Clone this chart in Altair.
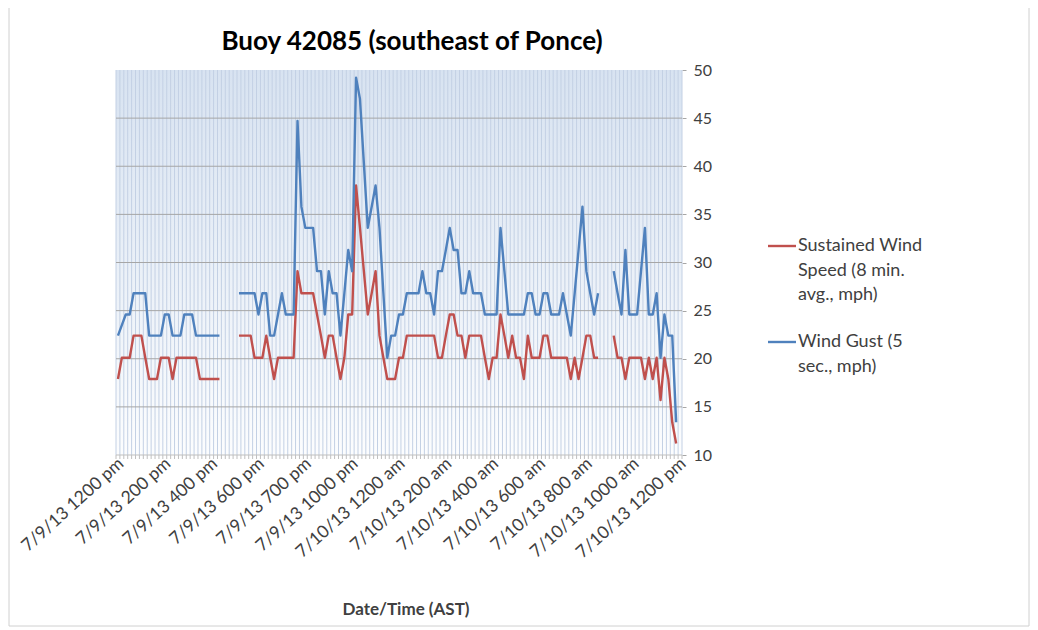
import json
import altair as alt
import pandas as pd

# ---------------- data ----------------
tick_labels = ["7/9/13 1200 pm", "7/9/13 200 pm", "7/9/13 400 pm", "7/9/13 600 pm",
               "7/9/13 700 pm", "7/9/13 1000 pm", "7/10/13 1200 am", "7/10/13 200 am",
               "7/10/13 400 am", "7/10/13 600 am", "7/10/13 800 am", "7/10/13 1000 am",
               "7/10/13 1200 pm"]
label_step = 12
n_categories = 145

seg1_start = 0
gust_seg1 = [22.4, 23.5, 24.6, 24.6, 26.8, 26.8, 26.8, 26.8, 22.4, 22.4, 22.4, 22.4, 24.6, 24.6,
             22.4, 22.4, 22.4, 24.6, 24.6, 24.6, 22.4, 22.4, 22.4, 22.4, 22.4, 22.4, 22.4]
sust_seg1 = [17.9, 20.1, 20.1, 20.1, 22.4, 22.4, 22.4, 20.1, 17.9, 17.9, 17.9, 20.1, 20.1, 20.1,
             17.9, 20.1, 20.1, 20.1, 20.1, 20.1, 20.1, 17.9, 17.9, 17.9, 17.9, 17.9, 17.9]

seg2_start = 31
gust_seg2 = [26.8, 26.8, 26.8, 26.8, 26.8, 24.6, 26.8, 26.8, 22.4, 22.4, 24.6, 26.8, 24.6, 24.6,
             24.6, 44.7, 35.8, 33.6, 33.6, 33.6, 29.1, 29.1, 24.6, 29.1, 26.8, 26.8, 22.4, 26.8,
             31.3, 29.1, 49.2, 47.0, 40.3, 33.6, 35.8, 38.0, 33.6, 26.8, 20.1, 22.4, 22.4, 24.6,
             24.6, 26.8, 26.8, 26.8, 26.8, 29.1, 26.8, 26.8, 24.6, 29.1, 29.1, 31.3, 33.6, 31.3,
             31.3, 26.8, 26.8, 29.1, 26.8, 26.8, 26.8, 24.6, 24.6, 24.6, 24.6, 33.6, 29.1, 24.6,
             24.6, 24.6, 24.6, 24.6, 26.8, 26.8, 24.6, 24.6, 26.8, 26.8, 24.6, 24.6, 24.6, 26.8,
             24.6, 22.4, 26.8, 31.3, 35.8, 29.1, 26.8, 24.6, 26.8]
sust_seg2 = [22.4, 22.4, 22.4, 22.4, 20.1, 20.1, 20.1, 22.4, 20.1, 17.9, 20.1, 20.1, 20.1, 20.1,
             20.1, 29.1, 26.8, 26.8, 26.8, 26.8, 24.6, 22.4, 20.1, 22.4, 22.4, 20.1, 17.9, 20.1,
             24.6, 24.6, 38.0, 33.6, 29.1, 24.6, 26.8, 29.1, 22.4, 20.1, 17.9, 17.9, 17.9, 20.1,
             20.1, 22.4, 22.4, 22.4, 22.4, 22.4, 22.4, 22.4, 22.4, 20.1, 20.1, 22.4, 24.6, 24.6,
             22.4, 22.4, 20.1, 22.4, 22.4, 22.4, 22.4, 20.1, 17.9, 20.1, 20.1, 24.6, 22.4, 20.1,
             22.4, 20.1, 20.1, 17.9, 22.4, 20.1, 20.1, 20.1, 22.4, 22.4, 20.1, 20.1, 20.1, 20.1,
             20.1, 17.9, 20.1, 17.9, 20.1, 22.4, 22.4, 20.1, 20.1]

seg3_start = 127
gust_seg3 = [29.1, 26.8, 24.6, 31.3, 24.6, 24.6, 24.6, 29.1, 33.6, 24.6, 24.6, 26.8, 20.1, 24.6,
             22.4, 22.4, 13.4]
sust_seg3 = [22.4, 20.1, 20.1, 17.9, 20.1, 20.1, 20.1, 20.1, 17.9, 20.1, 17.9, 20.1, 15.7, 20.1,
             17.9, 13.4, 11.2]

y_ticks = [10, 15, 20, 25, 30, 35, 40, 45, 50]
grid_values = [15, 20, 25, 30, 35, 40, 45]

title_text = "Buoy 42085 (southeast of Ponce)"
x_title_text = "Date/Time (AST)"
legend_sust = "Sustained Wind\nSpeed (8 min.\navg., mph)"
legend_gust = "Wind Gust (5\nsec., mph)"

RED = "#c0504d"
BLUE = "#4f81bd"
FONT = "Lato"

# ---------------- tables ----------------
def seg_rows(start, values, seg):
    return [{"i": start + k, "v": val, "seg": seg} for k, val in enumerate(values)]

gust_df = pd.DataFrame(seg_rows(seg1_start, gust_seg1, 1) + seg_rows(seg2_start, gust_seg2, 2)
                       + seg_rows(seg3_start, gust_seg3, 3))
sust_df = pd.DataFrame(seg_rows(seg1_start, sust_seg1, 1) + seg_rows(seg2_start, sust_seg2, 2)
                       + seg_rows(seg3_start, sust_seg3, 3))
bounds_df = pd.DataFrame({"i": [k - 0.5 for k in range(n_categories + 1)]})
hgrid_df = pd.DataFrame({"v": grid_values})
one = pd.DataFrame({"a": [0]})

W, H = 566, 385
xscale = alt.Scale(domain=[-0.5, n_categories - 0.5], nice=False, zero=False)
yscale = alt.Scale(domain=[10, 50], nice=False, zero=False)

label_expr = json.dumps(tick_labels) + "[round(datum.value / %d)]" % label_step

xaxis = alt.Axis(values=list(range(0, n_categories, label_step)), labelExpr=label_expr,
                 labelAngle=-42, labelAlign="right", labelBaseline="middle",
                 labelFont=FONT, labelFontSize=17.5, labelColor="#404040",
                 labelPadding=6, labelOffset=3, ticks=False, domain=False, grid=False,
                 labelOverlap=False, labelBound=False, labelFlush=False, title=None)
yaxis = alt.Axis(orient="right", values=y_ticks, labelFont=FONT, labelFontSize=16,
                 labelColor="#404040", tickColor="#a6a6a6", tickSize=4,
                 labelPadding=7, domain=False, grid=False, title=None)

X = alt.X("i:Q", scale=xscale, axis=xaxis)
Y = alt.Y("v:Q", scale=yscale, axis=yaxis)

bg = alt.Chart(one).mark_rect(
    color=alt.Gradient(gradient="linear",
                       stops=[alt.GradientStop(color="#d8e3f1", offset=0),
                              alt.GradientStop(color="#fcfdfe", offset=1)],
                       x1=0, x2=0, y1=0, y2=1)
).encode(x=alt.value(0), x2=alt.value(W), y=alt.value(0), y2=alt.value(H))

vgrid = alt.Chart(bounds_df).mark_rule(color="#c3d0e4", strokeWidth=1).encode(
    x=X, y=alt.value(0), y2=alt.value(H))

xticks = alt.Chart(bounds_df).mark_rule(color="#bfbfbf", strokeWidth=1).encode(
    x=X, y=alt.value(H), y2=alt.value(H + 4))

xdomain = alt.Chart(one).mark_rule(color="#bfbfbf", strokeWidth=1).encode(
    x=alt.value(0), x2=alt.value(W), y=alt.value(H))

hgrid = alt.Chart(hgrid_df).mark_rule(color="#a6a6a6", strokeWidth=1).encode(
    y=Y, x=alt.value(0), x2=alt.value(W))

sust_line = alt.Chart(sust_df).mark_line(color=RED, strokeWidth=2.4, strokeJoin="round").encode(
    x=X, y=Y, detail="seg:N")

gust_line = alt.Chart(gust_df).mark_line(color=BLUE, strokeWidth=2.4, strokeJoin="round").encode(
    x=X, y=Y, detail="seg:N")

title = alt.Chart(one).mark_text(text=title_text, font=FONT, fontSize=26, fontWeight="bold",
                                 color="#000000", align="center", baseline="middle").encode(
    x=alt.value(296), y=alt.value(-28))

xtitle = alt.Chart(one).mark_text(text=x_title_text, font=FONT, fontSize=17, fontWeight="bold",
                                  color="#404040", align="center", baseline="middle").encode(
    x=alt.value(290), y=alt.value(540))

leg_red = alt.Chart(one).mark_rule(color=RED, strokeWidth=2.4).encode(
    x=alt.value(652), x2=alt.value(680), y=alt.value(176))
leg_blue = alt.Chart(one).mark_rule(color=BLUE, strokeWidth=2.4).encode(
    x=alt.value(652), x2=alt.value(680), y=alt.value(272))
leg_red_t = alt.Chart(one).mark_text(text=legend_sust, lineBreak="\n", lineHeight=24.5, font=FONT,
                                     fontSize=18, color="#404040", align="left",
                                     baseline="top").encode(x=alt.value(682), y=alt.value(167))
leg_blue_t = alt.Chart(one).mark_text(text=legend_gust, lineBreak="\n", lineHeight=24.5, font=FONT,
                                      fontSize=18, color="#404040", align="left",
                                      baseline="top").encode(x=alt.value(682), y=alt.value(263))

# chart-area border (left, right, bottom edges)
border_l = alt.Chart(one).mark_rule(color="#d0d0d0", strokeWidth=1).encode(
    x=alt.value(-107), y=alt.value(-62), y2=alt.value(556))
border_r = alt.Chart(one).mark_rule(color="#d0d0d0", strokeWidth=1).encode(
    x=alt.value(913), y=alt.value(-62), y2=alt.value(556))
border_b = alt.Chart(one).mark_rule(color="#d0d0d0", strokeWidth=1).encode(
    x=alt.value(-107), x2=alt.value(913), y=alt.value(556))

chart = alt.layer(bg, vgrid, hgrid, xticks, xdomain, sust_line, gust_line, title, xtitle,
                  leg_red, leg_blue, leg_red_t, leg_blue_t, border_l, border_r, border_b).properties(
    width=W, height=H,
    autosize=alt.AutoSizeParams(type="none"),
    padding={"left": 108, "top": 62, "right": 348, "bottom": 172},
    background="white",
).configure_view(stroke=None)

chart.save("out.html", embed_options={"renderer": "svg", "actions": False})
